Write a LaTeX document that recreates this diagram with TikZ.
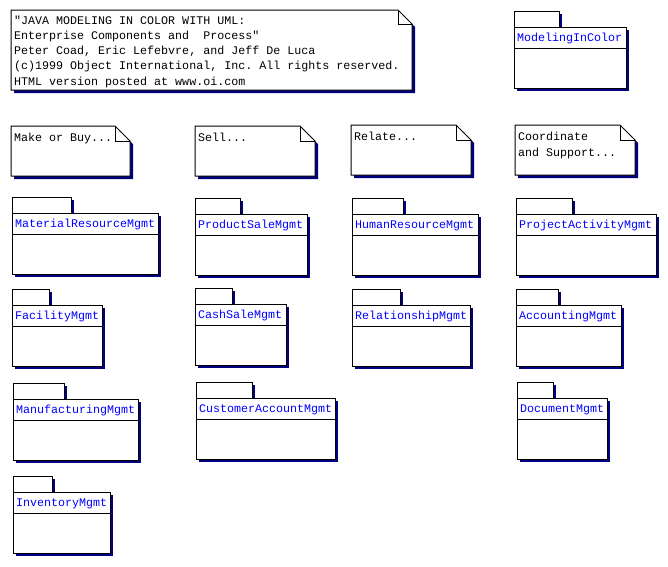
\documentclass[tikz,border=0pt]{standalone}
\usepackage{fontspec}
\setmonofont{Liberation Mono}
\definecolor{shadowblue}{HTML}{000080}
\definecolor{pkgtext}{HTML}{0000FF}
\tikzset{
  shad/.style={fill=shadowblue, draw=none},
  outline/.style={draw=black, fill=white, line width=1pt},
  sepline/.style={draw=black, line width=1pt},
  pkglabel/.style={anchor=base west, inner sep=0pt, text=pkgtext,
    font=\ttfamily\fontsize{11.67}{14}\selectfont},
  notetext/.style={anchor=base west, inner sep=0pt, align=left, text=black,
    font=\ttfamily\fontsize{11.67}{15.3}\selectfont},
}
% name, x0, y0, tab width, body width, label
\newcommand\umlpkg[6]{%
  \begin{scope}[shift={(#2,#3)}]
    \fill[shad] (3,3) rectangle (#4+3,19.5);
    \fill[shad] (3,19) rectangle (#5+3,80);
    \draw[outline] (0,0) rectangle (#4,16);
    \draw[outline] (0,16) rectangle (#5,77);
    \draw[sepline] (0,37) -- (#5,37);
    \node[pkglabel] (#1) at (3,30.5) {#6};
  \end{scope}}
% name, x0, y0, width, height, fold, baseline of last line, text
\newcommand\umlnote[8]{%
  \begin{scope}[shift={(#2,#3)}]
    \fill[shad] (3,3) -- (#4-#6+3,3) -- (#4+3,#6+3) -- (#4+3,#5+3) -- (3,#5+3) -- cycle;
    \draw[outline] (0,0) -- (#4-#6,0) -- (#4,#6) -- (#4,#5) -- (0,#5) -- cycle;
    \draw[sepline] (#4-#6,0) -- (#4-#6,#6) -- (#4,#6);
    \node[notetext] (#1) at (3,#7) {#8};
  \end{scope}}
\begin{document}
\begin{tikzpicture}[x=1pt,y=-1pt]
\useasboundingbox (0,0) rectangle (668,566);
\umlnote{copyright}{11}{10}{401}{80}{14}{75.2}{"JAVA MODELING IN COLOR WITH UML:\\Enterprise Components and~~Process"\\Peter Coad, Eric Lefebvre, and Jeff De Luca\\(c)1999 Object International, Inc. All rights reserved.\\HTML version posted at www.oi.com}
\umlpkg{modeling}{514}{11}{45}{112}{ModelingInColor}

\umlnote{makebuy}{11}{126}{119}{50}{15}{15.5}{Make or Buy...}
\umlnote{sell}{195}{126}{120}{50}{15}{15.5}{Sell...}
\umlnote{relate}{351}{125}{120}{50}{15}{15.5}{Relate...}
\umlnote{coord}{515}{125}{120}{50}{15}{31}{Coordinate\\and Support...}

\umlpkg{material}{12}{197}{59}{146}{MaterialResourceMgmt}
\umlpkg{productsale}{195}{198}{45}{112}{ProductSaleMgmt}
\umlpkg{humanres}{352}{198}{51}{126}{HumanResourceMgmt}
\umlpkg{projact}{516}{198}{56}{140}{ProjectActivityMgmt}

\umlpkg{facility}{12}{289}{37}{90}{FacilityMgmt}
\umlpkg{cashsale}{195}{288}{37}{91}{CashSaleMgmt}
\umlpkg{relationship}{352}{289}{48}{118}{RelationshipMgmt}
\umlpkg{accounting}{516}{289}{42}{105}{AccountingMgmt}

\umlpkg{manufacturing}{13}{383}{51}{125}{ManufacturingMgmt}
\umlpkg{custacct}{196}{382}{56}{139}{CustomerAccountMgmt}
\umlpkg{document}{517}{382}{36}{90}{DocumentMgmt}

\umlpkg{inventory}{13}{476}{39}{97}{InventoryMgmt}
\end{tikzpicture}
\end{document}
